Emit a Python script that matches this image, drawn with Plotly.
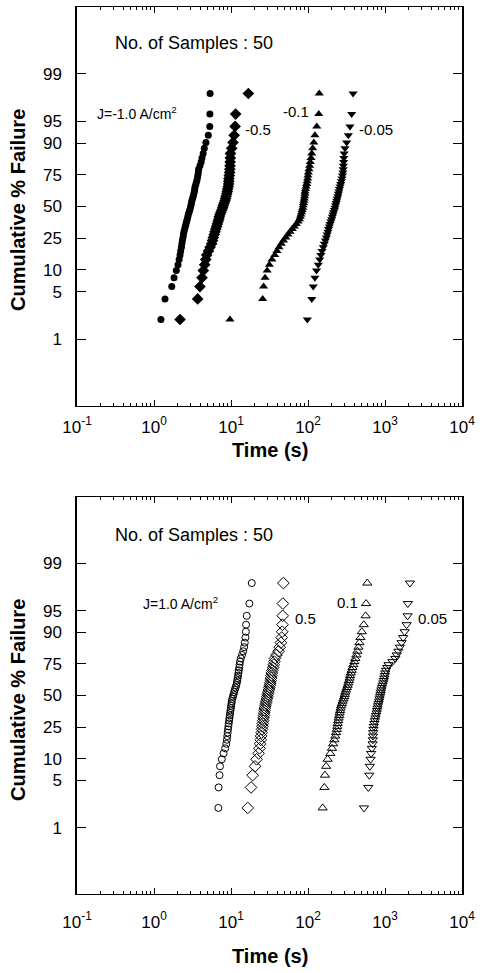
import numpy as np
import plotly.graph_objects as go

W, H = 482, 973

# failure times (s), sorted, 50 samples per current density
# negative current density (top panel)
t_neg_100 = [1.23, 1.39, 1.70, 1.82, 1.95, 2.05, 2.12, 2.18, 2.22, 2.27,
             2.30, 2.34, 2.38, 2.41, 2.45, 2.50, 2.55, 2.60, 2.65, 2.70,
             2.75, 2.79, 2.85, 2.91, 2.97, 3.02, 3.06, 3.10, 3.17, 3.23,
             3.29, 3.34, 3.38, 3.42, 3.50, 3.58, 3.65, 3.71, 3.76, 3.80,
             3.95, 4.10, 4.20, 4.35, 4.50, 4.73, 5.07, 5.30, 5.32, 5.35]
t_neg_050 = [2.18, 3.69, 3.95, 4.20, 4.37, 4.55, 4.70, 4.83, 5.10, 5.35,
             5.60, 5.75, 5.90, 6.05, 6.20, 6.35, 6.50, 6.65, 6.80, 6.95,
             7.05, 7.20, 7.40, 7.60, 7.80, 7.95, 8.15, 8.36, 8.50, 8.65,
             8.80, 8.95, 9.05, 9.20, 9.30, 9.35, 9.40, 9.50, 9.60, 9.65,
             9.70, 9.75, 9.80, 9.85, 10.2, 10.6, 11.0, 11.3, 11.5, 16.8]
t_neg_010 = [9.7, 25.8, 26.5, 27.7, 29.5, 31.5, 34.0, 37.0, 39.5, 42.0,
             45.0, 48.0, 51.5, 55.0, 58.5, 62.5, 66.5, 70.5, 74.5, 77.5,
             79.5, 81.0, 82.7, 84.0, 85.5, 86.5, 87.5, 88.5, 89.5, 90.5,
             91.0, 91.5, 93.0, 94.5, 96.0, 97.5, 99.0, 100.0, 101.0, 103.0,
             105.0, 107.0, 109.5, 112.0, 115.0, 119.0, 123.0, 130.0, 138.0, 140.0]
t_neg_005 = [98, 112, 117, 123, 129, 136, 142, 147, 152, 158,
             163, 168, 173, 177, 181, 185, 189, 193, 198, 203,
             207, 211, 215, 220, 224, 228, 232, 236, 240, 244,
             248, 252, 256, 261, 266, 271, 276, 280, 284, 286,
             288, 290, 292, 295, 302, 318, 334, 351, 369, 385]

# positive current density (bottom panel)
t_pos_100 = [6.85, 6.90, 7.10, 7.20, 7.60, 8.00, 8.40, 8.70, 8.85, 8.95,
             9.05, 9.15, 9.25, 9.35, 9.45, 9.55, 9.65, 9.75, 9.85, 9.95,
             10.05, 10.15, 10.25, 10.4, 10.6, 10.8, 11.0, 11.2, 11.45, 11.7,
             11.9, 12.05, 12.2, 12.35, 12.5, 12.6, 12.8, 12.95, 13.1, 13.4,
             13.9, 14.4, 14.8, 15.1, 15.4, 15.6, 15.7, 16.0, 17.3, 18.6]
t_pos_050 = [16.5, 18.2, 19.1, 20.5, 21.5, 22.8, 23.4, 23.9, 24.3, 24.6,
             25.0, 25.3, 25.6, 25.9, 26.2, 26.5, 26.8, 27.0, 27.3, 27.6,
             28.0, 28.4, 28.8, 29.2, 29.6, 30.1, 30.6, 31.0, 31.5, 32.0,
             32.4, 32.8, 33.1, 33.5, 33.9, 34.5, 35.2, 35.9, 36.5, 37.2,
             39.0, 41.5, 43.0, 44.5, 45.5, 46.2, 46.6, 46.9, 47.2, 47.9]
t_pos_010 = [155, 163, 166, 172, 180, 195, 205, 212, 220, 226,
             232, 237, 240, 243, 247, 250, 254, 257, 261, 265,
             270, 276, 282, 289, 295, 300, 305, 312, 320, 327,
             334, 340, 347, 352, 360, 368, 378, 388, 400, 412,
             425, 438, 452, 465, 480, 500, 530, 560, 568, 589]
t_pos_005 = [533, 607, 625, 636, 650, 660, 675, 690, 695, 698,
             702, 708, 715, 728, 740, 752, 765, 780, 790, 800,
             812, 825, 838, 850, 862, 875, 885, 898, 912, 928,
             950, 965, 980, 995, 1010, 1030, 1070, 1110, 1250, 1360,
             1420, 1490, 1560, 1640, 1720, 1800, 1910, 1965, 1980, 2110]

pct_ticks = [1, 5, 10, 25, 50, 75, 90, 95, 99]
x_ticks = [0.1, 1, 10, 100, 1000, 10000]
x_ticktext = ["10<sup>-1</sup>", "10<sup>0</sup>", "10<sup>1</sup>",
              "10<sup>2</sup>", "10<sup>3</sup>", "10<sup>4</sup>"]


def logit_pct(p):
    p = np.asarray(p, dtype=float) / 100.0
    return np.log(p / (1 - p))


def median_rank(n):
    # plotting position i/(n+1) in percent
    return 100.0 * np.arange(1, n + 1) / (n + 1)


def px(x, y):
    return x / W, 1 - y / H


fig = go.Figure()

top_series = [(t_neg_100, "circle", 7), (t_neg_050, "diamond", 9),
              (t_neg_010, "triangle-up", 8), (t_neg_005, "triangle-down", 8)]
bot_series = [(t_pos_100, "circle-open", 7), (t_pos_050, "diamond-open", 9),
              (t_pos_010, "triangle-up-open", 8), (t_pos_005, "triangle-down-open", 8)]

for data, sym, sz in top_series:
    fig.add_trace(go.Scatter(x=data, y=logit_pct(median_rank(len(data))),
                             mode="markers", xaxis="x", yaxis="y",
                             marker=dict(symbol=sym, size=sz, color="black",
                                         line=dict(width=0))))
for data, sym, sz in bot_series:
    fig.add_trace(go.Scatter(x=data, y=logit_pct(median_rank(len(data))),
                             mode="markers", xaxis="x2", yaxis="y2",
                             marker=dict(symbol=sym, size=sz, color="black",
                                         line=dict(width=1, color="black"))))

x_dom = [77 / W, 462 / W]
minor_vals = [m * 10.0 ** e for e in range(-1, 4) for m in range(2, 10)]
yr = float(logit_pct(99.9))

xaxis_style = dict(type="log", range=[-1, 4], domain=x_dom, automargin=False,
                   tickmode="array", tickvals=x_ticks, ticktext=x_ticktext,
                   ticks="inside", ticklen=6, tickwidth=1, tickcolor="black",
                   minor=dict(tickmode="array", tickvals=minor_vals,
                              ticks="inside", ticklen=3, tickcolor="black"),
                   showline=True, linecolor="black", linewidth=1.2, mirror="ticks",
                   showgrid=False, zeroline=False,
                   tickfont=dict(family="Arial", size=17, color="black"))
yaxis_style = dict(range=[-yr, yr], tickmode="array", automargin=False,
                   tickvals=logit_pct(pct_ticks), ticktext=[str(p) for p in pct_ticks],
                   ticks="inside", ticklen=9, tickwidth=1, tickcolor="black",
                   showline=True, linecolor="black", linewidth=1.5, mirror="ticks",
                   showgrid=False, zeroline=False, ticklabelstandoff=10,
                   tickfont=dict(family="Arial", size=17, color="black"))

fig.update_layout(
    width=W, height=H, margin=dict(l=0, r=0, t=0, b=0, autoexpand=False),
    paper_bgcolor="white", plot_bgcolor="white", showlegend=False,
    xaxis=dict(anchor="y", ticklabelstandoff=5, **xaxis_style),
    yaxis=dict(anchor="x", domain=[1 - 406 / H, 1 - 7 / H], **yaxis_style),
    xaxis2=dict(anchor="y2", ticklabelstandoff=12, **xaxis_style),
    yaxis2=dict(anchor="x2", domain=[1 - 894 / H, 1 - 497 / H], **yaxis_style),
)

annos = []
title_font = dict(family="Arial", size=20, color="black")
for yc, yt in [(210, 450), (700, 956)]:
    ax, ay = px(18, yc)
    annos.append(dict(x=ax, y=ay, xref="paper", yref="paper", text="<b>Cumulative % Failure</b>",
                      textangle=-90, showarrow=False, font=title_font,
                      xanchor="center", yanchor="middle"))
    bx, by = px(270, yt)
    annos.append(dict(x=bx, y=by, xref="paper", yref="paper", text="<b>Time (s)</b>",
                      showarrow=False, font=title_font, xanchor="center", yanchor="middle"))

labels = [
    ("No. of Samples : 50", 113, 43, 18),
    ("J=-1.0 A/cm<sup>2</sup>", 95, 113, 14),
    ("-0.5", 243, 130, 15),
    ("-0.1", 281, 112, 15),
    ("-0.05", 357, 130, 15),
    ("No. of Samples : 50", 113, 535, 18),
    ("J=1.0 A/cm<sup>2</sup>", 141, 603, 14),
    ("0.5", 293, 618, 15),
    ("0.1", 335, 602, 15),
    ("0.05", 416, 618, 15),
]
for txt, lx, ly, fs in labels:
    ax, ay = px(lx, ly)
    annos.append(dict(x=ax, y=ay, xref="paper", yref="paper", text=txt,
                      showarrow=False, xanchor="left", yanchor="middle",
                      font=dict(family="Arial", size=fs, color="black")))

fig.update_layout(annotations=annos)

# drop the default page margin so the figure sits at the window origin
fig.write_html("out.html", config={"displayModeBar": False},
               post_script="document.body.style.margin='0';")
